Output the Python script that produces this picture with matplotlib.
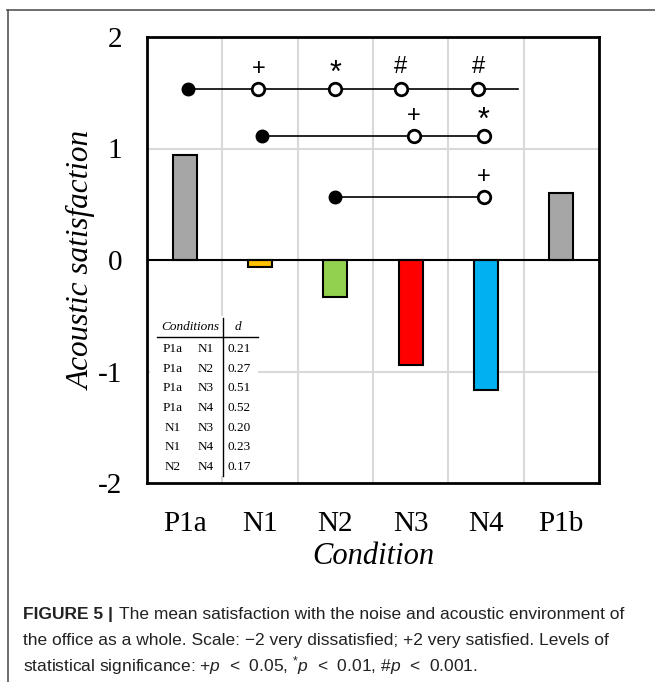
import matplotlib
matplotlib.use("Agg")
import matplotlib.pyplot as plt
import numpy as np

plt.rcParams['mathtext.fontset'] = 'custom'
plt.rcParams['mathtext.rm'] = 'Liberation Sans'
plt.rcParams['mathtext.it'] = 'Liberation Sans:italic'

# data
conditions = ["P1a", "N1", "N2", "N3", "N4", "P1b"]
satisfaction = [0.94, -0.06, -0.33, -0.94, -1.17, 0.60]
bar_colors = ["#a6a6a6", "#ffc000", "#92d050", "#ff0000", "#00b0f0", "#a6a6a6"]
yticks = [-2, -1, 0, 1, 2]
ytick_labels = ["-2", "-1", "0", "1", "2"]

# significance rows: reference (filled dot), compared positions (open), symbols, line end
sig_level = [1.53, 1.11, 0.565]
sig_ref = [0.04, 1.02, 2.0]
sig_cmp = [[0.98, 2.0, 2.87, 3.9], [3.04, 3.97], [3.97]]
sig_sym = [["+", "*", "#", "#"], ["+", "*"], ["+"]]
sig_end = [4.42, 3.97, 3.97]

# effect size table
pair_a = ["P1a", "P1a", "P1a", "P1a", "N1", "N1", "N2"]
pair_b = ["N1", "N2", "N3", "N4", "N3", "N4", "N4"]
d_vals = ["0.21", "0.27", "0.51", "0.52", "0.20", "0.23", "0.17"]

W, H = 655, 682
fig = plt.figure(figsize=(W / 100, H / 100), dpi=100)
ax = fig.add_axes([147 / W, 1 - 483 / H, 452 / W, 446 / H])

x = np.arange(len(conditions))
ax.bar(x, satisfaction, width=0.32, color=bar_colors, edgecolor="black", linewidth=1.5, zorder=3)

ax.set_xlim(-0.5, len(conditions) - 0.5)
ax.set_ylim(-2, 2)

# grid: vertical lines between categories, horizontal at +/-1
for xv in np.arange(0.5, len(conditions) - 0.5, 1):
    ax.axvline(xv, color="#d9d9d9", lw=1.5, zorder=0)
for yv in [-1, 1]:
    ax.axhline(yv, color="#d9d9d9", lw=1.5, zorder=0)
ax.axhline(0, color="black", lw=1.5, zorder=4)

for sp in ax.spines.values():
    sp.set_linewidth(2)

ax.set_xticks(x)
ax.set_xticklabels(conditions, family="Liberation Serif", fontsize=21)
ax.set_yticks(yticks)
ax.set_yticklabels(ytick_labels, family="Liberation Serif", fontsize=21)
ax.tick_params(length=0, pad=18)
ax.tick_params(axis='x', pad=20)
ax.set_ylabel("Acoustic satisfaction", family="Liberation Serif", style="italic",
              fontsize=22.5, labelpad=1)
ax.set_xlabel("Condition", family="Liberation Serif", style="italic", fontsize=22, labelpad=4)

# significance markers
sym_size = {"+": 17, "*": 22, "#": 17}
sym_off = {"+": 0.08, "*": 0.0, "#": 0.1}
for lvl, ref, cmps, syms, end in zip(sig_level, sig_ref, sig_cmp, sig_sym, sig_end):
    ax.plot([ref, end], [lvl, lvl], color="black", lw=1.2, zorder=5)
    ax.plot(ref, lvl, "o", color="black", ms=9, zorder=6)
    ax.plot(cmps, [lvl] * len(cmps), "o", mfc="white", mec="black", mew=2, ms=9, zorder=6)
    for cx, s in zip(cmps, syms):
        ax.text(cx, lvl + sym_off[s], s, ha="center", va="bottom", fontsize=sym_size[s],
                family="Liberation Sans", zorder=6)

# effect size table inside the axes
def fx(px):
    return (px - 147) / 452

def fy(py):
    return (483 - py) / 446

tr = ax.transAxes
ax.add_patch(plt.Rectangle((fx(150), fy(476)), fx(258) - fx(150), fy(316) - fy(476),
                           transform=tr, facecolor="white", edgecolor="none", zorder=2))
tkw = dict(family="Liberation Serif", fontsize=9.5, transform=tr, va="center", zorder=7)
ax.text(fx(190), fy(327), "Conditions", ha="center", style="italic", **tkw)
ax.text(fx(238), fy(327), "d", ha="center", style="italic", **tkw)
ax.plot([fx(157), fx(258)], [fy(337), fy(337)], color="black", lw=1, transform=tr, zorder=7)
ax.plot([fx(223), fx(223)], [fy(318), fy(476)], color="black", lw=1, transform=tr, zorder=7)
for i, (a, b, dv) in enumerate(zip(pair_a, pair_b, d_vals)):
    yy = fy(349 + i * 19.7)
    ax.text(fx(173), yy, a, ha="center", **tkw)
    ax.text(fx(206), yy, b, ha="center", **tkw)
    ax.text(fx(228), yy, dv, ha="left", **tkw)

# outer frame lines (top and left)
fig.add_artist(plt.Line2D([7 / W, 1], [1 - 10 / H, 1 - 10 / H], color="#555555", lw=1.2))
fig.add_artist(plt.Line2D([8 / W, 8 / W], [0, 1 - 10 / H], color="#555555", lw=1.2))

# caption
cap_kw = dict(family="Liberation Sans", fontsize=12.5, color="#222222", va="baseline")
t0 = fig.text(23 / W, 1 - 619 / H, "FIGURE 5 |", weight="bold", **cap_kw)
fig.canvas.draw()
bb = t0.get_window_extent()
fig.text((bb.x1 + 6) / W, 1 - 619 / H,
         "The mean satisfaction with the noise and acoustic environment of", **cap_kw)
fig.text(23 / W, 1 - 645 / H,
         "the office as a whole. Scale: \u22122 very dissatisfied; +2 very satisfied. Levels of",
         **cap_kw)
fig.text(23 / W, 1 - 671 / H,
         "statistical significance: +$p$  <  0.05, $^{*}$$p$  <  0.01, #$p$  <  0.001.",
         **cap_kw)

fig.savefig("out.png", dpi=100)
